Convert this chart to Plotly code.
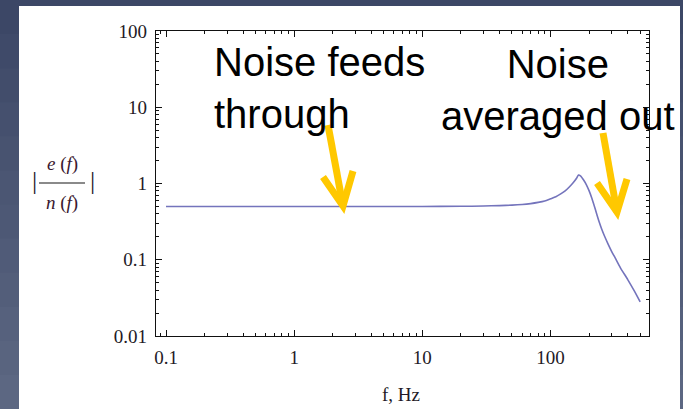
import plotly.graph_objects as go

# Frequency response |e(f)/n(f)| of the averaging loop
freq_hz = [0.1, 1, 10, 20, 30, 40, 50, 60, 70, 80, 90, 100, 110, 120, 130, 140,
           150, 160, 165, 172, 180, 190, 200, 210, 220, 230, 240, 250, 265, 280,
           300, 320, 350, 400, 450, 500]
gain = [0.5, 0.5, 0.5, 0.502, 0.507, 0.513, 0.52, 0.53, 0.545, 0.565, 0.59, 0.63,
        0.67, 0.73, 0.8, 0.9, 1.02, 1.18, 1.29, 1.25, 1.13, 0.97, 0.8, 0.64, 0.5,
        0.39, 0.31, 0.255, 0.2, 0.163, 0.128, 0.105, 0.079, 0.055, 0.039, 0.028]

x_major = [0.1, 1, 10, 100]
x_labels = ["0.1", "1", "10", "100"]
y_major = [0.01, 0.1, 1, 10, 100]
y_labels = ["0.01", "0.1", "1", "10", "100"]

W, H = 683, 409
L, R, T, B = 156, 34, 31, 73
PW, PH = W - L - R, H - T - B


def px(x):
    return (x - L) / PW


def py(y):
    return (H - B - y) / PH


fig = go.Figure()
fig.add_trace(go.Scatter(
    x=freq_hz, y=gain, mode="lines", line_shape="spline",
    line=dict(color="#7474bc", width=1.6, smoothing=0.6),
    hoverinfo="skip", showlegend=False,
))

tick_font = dict(family="Liberation Serif", size=19, color="#231a26")
axis_common = dict(
    type="log", showgrid=False, zeroline=False,
    showline=True, linecolor="#111111", linewidth=1.3, mirror="ticks",
    ticks="inside", ticklen=6, tickwidth=1.2, tickcolor="#111111",
    tickmode="array", tickfont=tick_font,
    minor=dict(dtick="D1", ticks="inside", ticklen=3, tickwidth=1,
               tickcolor="#111111", showgrid=False),
)

fig.update_xaxes(**axis_common, range=[-1.078, 2.768],
                 tickvals=x_major, ticktext=x_labels, ticklabelstandoff=4)
fig.update_yaxes(**axis_common, range=[-2, 2],
                 tickvals=y_major, ticktext=y_labels, ticklabelstandoff=4)

shapes = []

# slate-blue slide background, darker at the top
top_rgb, bot_rgb = (60, 71, 102), (92, 103, 130)
bands = 12
for i in range(bands):
    t = i / (bands - 1)
    c = tuple(round(a + (b - a) * t) for a, b in zip(top_rgb, bot_rgb))
    y0 = i * H / bands
    y1 = (i + 1) * H / bands + 1
    shapes.append(dict(type="rect", xref="paper", yref="paper", layer="below",
                       x0=px(-5), x1=px(W + 5), y0=py(y1), y1=py(y0),
                       fillcolor="rgb({},{},{})".format(*c), line=dict(width=0)))

shapes += [
    # white slide panel behind the chart
    dict(type="rect", xref="paper", yref="paper", layer="below",
         x0=px(19), x1=px(680), y0=py(6), y1=py(409) - 0.01,
         fillcolor="white", line=dict(width=0)),
    # fraction bar of the y-axis label
    dict(type="line", xref="paper", yref="paper",
         x0=px(39), x1=px(85), y0=py(183), y1=py(183),
         line=dict(color="#8a8a8a", width=2)),
]

yellow = "#ffc800"
arrows = [
    # (shaft start, tip, left arm end, right arm end)
    ((328, 125), (343, 206), (323, 177), (353, 171)),
    ((603, 133), (617, 212), (597, 183), (627, 179)),
]
for s, tip, a, b in arrows:
    shapes.append(dict(type="line", xref="paper", yref="paper",
                       x0=px(s[0]), y0=py(s[1]), x1=px(tip[0]), y1=py(tip[1]),
                       line=dict(color=yellow, width=7)))
    path = "M {} {} L {} {} L {} {}".format(px(a[0]), py(a[1]), px(tip[0]), py(tip[1]),
                                            px(b[0]), py(b[1]))
    shapes.append(dict(type="path", xref="paper", yref="paper", path=path,
                       line=dict(color=yellow, width=7)))

label_font = dict(family="Liberation Sans", size=40, color="black")
lab_font = dict(family="Liberation Serif", size=19, color="#3a1830")
bar_font = dict(family="Liberation Serif", size=26, color="#2a1a30")

annotations = [
    dict(text="Noise feeds<br>through", x=px(212), y=py(38), xref="paper", yref="paper",
         xanchor="left", yanchor="top", align="left", showarrow=False, font=label_font),
    dict(text="Noise<br>averaged out", x=px(558), y=py(40), xref="paper", yref="paper",
         xanchor="center", yanchor="top", align="center", showarrow=False, font=label_font),
    dict(text="<i>e</i> (<i>f</i>)", x=px(62), y=py(164), xref="paper", yref="paper",
         xanchor="center", yanchor="middle", showarrow=False, font=lab_font),
    dict(text="<i>n</i> (<i>f</i>)", x=px(62), y=py(203), xref="paper", yref="paper",
         xanchor="center", yanchor="middle", showarrow=False, font=lab_font),
    dict(text="|", x=px(34), y=py(180), xref="paper", yref="paper",
         xanchor="center", yanchor="middle", showarrow=False, font=bar_font),
    dict(text="|", x=px(92), y=py(180), xref="paper", yref="paper",
         xanchor="center", yanchor="middle", showarrow=False, font=bar_font),
    dict(text="f, Hz", x=px(401), y=py(394), xref="paper", yref="paper",
         xanchor="center", yanchor="middle", showarrow=False,
         font=dict(family="Liberation Serif", size=19, color="#231a26")),
]

fig.update_layout(
    width=W, height=H,
    margin=dict(l=L, r=R, t=T, b=B, pad=0),
    paper_bgcolor="#4a5574",
    plot_bgcolor="white",
    shapes=shapes,
    annotations=annotations,
    showlegend=False,
)

fig.write_html("out.html")
